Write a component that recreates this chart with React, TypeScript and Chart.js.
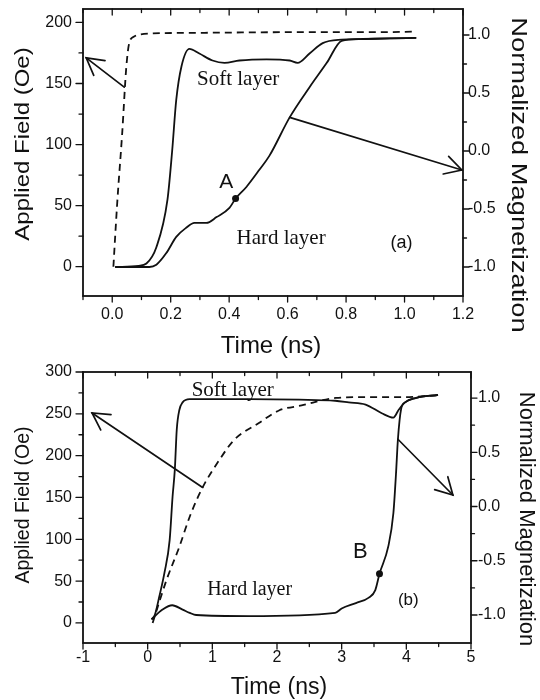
import { useEffect, useRef } from "react";
import { Chart, registerables } from "chart.js";

Chart.register(...registerables);

const INK = "#111";
const SANS = "'Liberation Sans', Arial, Helvetica, sans-serif";
const SERIF = "'Liberation Serif', 'Times New Roman', serif";

// ---------- Panel (a): fast pulse, time in ns ----------
const fieldTimeA = [0.004, 0.017, 0.034, 0.048, 0.058, 0.075, 0.092, 0.14, 0.3, 0.6, 0.9, 1.04];
const fieldA = [0, 52, 109, 163, 183, 188.5, 190, 191, 191.5, 192, 192, 192.5];

const softTimeA = [0.01, 0.09, 0.117, 0.151, 0.189, 0.205, 0.219, 0.237, 0.264, 0.298, 0.343, 0.384, 0.435, 0.528, 0.607, 0.634, 0.675, 0.72, 0.785, 0.85, 0.95, 1.04];
const softA = [-1, -0.99, -0.97, -0.83, -0.42, 0.0, 0.44, 0.73, 0.88, 0.84, 0.78, 0.76, 0.78, 0.79, 0.78, 0.76, 0.84, 0.93, 0.96, 0.965, 0.97, 0.975];

const hardTimeA = [0.01, 0.127, 0.151, 0.185, 0.219, 0.254, 0.281, 0.322, 0.357, 0.401, 0.422, 0.459, 0.504, 0.538, 0.607, 0.675, 0.734, 0.785, 0.85, 0.95, 1.04];
const hardA = [-1, -1, -0.98, -0.88, -0.74, -0.66, -0.62, -0.62, -0.57, -0.49, -0.41, -0.31, -0.16, -0.04, 0.29, 0.55, 0.76, 0.95, 0.965, 0.97, 0.975];

const markA = [0.422, -0.41];

const timeTicksA = [0, 0.2, 0.4, 0.6, 0.8, 1.0, 1.2];
const timeMinorA = [-0.1, 0.1, 0.3, 0.5, 0.7, 0.9, 1.1];
const fieldTicksA = [0, 50, 100, 150, 200];
const fieldMinorA = [25, 75, 125, 175];
const magTicks = [-1, -0.5, 0, 0.5, 1];
const magMinor = [-0.75, -0.25, 0.25, 0.75];

// ---------- Panel (b): slow pulse, time in ns ----------
const fieldTimeB = [0.077, 0.29, 0.49, 0.65, 0.85, 1.11, 1.34, 1.72, 2.03, 2.38, 2.91, 3.42, 3.92, 4.49];
const fieldB = [0, 51, 91, 127, 162, 195, 219, 239, 254, 260, 269, 270, 270, 272];

const softTimeB = [0.06, 0.11, 0.18, 0.26, 0.34, 0.385, 0.42, 0.45, 0.49, 0.54, 0.65, 1.0, 1.57, 2.34, 2.9, 3.11, 3.37, 3.62, 3.8, 3.88, 3.98, 4.14, 4.49];
const softB = [-1.04, -1.0, -0.83, -0.61, -0.31, 0.09, 0.34, 0.71, 0.89, 0.96, 0.99, 0.99, 0.99, 0.985, 0.975, 0.96, 0.94, 0.86, 0.82, 0.89, 0.96, 1.0, 1.03];

const hardTimeB = [0.06, 0.23, 0.38, 0.54, 0.65, 0.75, 1.57, 2.9, 3.0, 3.22, 3.42, 3.52, 3.585, 3.72, 3.8, 3.84, 3.87, 3.92, 3.98, 4.14, 4.49];
const hardB = [-1.04, -0.95, -0.91, -0.95, -0.98, -1.0, -1.01, -0.98, -0.94, -0.89, -0.84, -0.77, -0.62, -0.37, -0.06, 0.3, 0.62, 0.9, 0.96, 1.0, 1.03];

const markB = [3.585, -0.62];

const timeTicksB = [-1, 0, 1, 2, 3, 4, 5];
const timeMinorB = [-0.5, 0.5, 1.5, 2.5, 3.5, 4.5];
const fieldTicksB = [0, 50, 100, 150, 200, 250, 300];
const fieldMinorB = [25, 75, 125, 175, 225, 275];

type Arrow = { from: [number, number]; to: [number, number]; axis: "yF" | "yM" };
type Note = { text: string; at: [number, number]; font: string; align: CanvasTextAlign };
type AxisTitle = { text: string; cx: number; cy: number; size: number; rot: number; stretch: number };

// Pointers from each curve to the axis it is read against
const arrowsA: Arrow[] = [
  { from: [0.041, 147], to: [-0.089, 171], axis: "yF" },
  { from: [0.607, 0.29], to: [1.196, -0.164], axis: "yM" },
];
const arrowsB: Arrow[] = [
  { from: [0.85, 162], to: [-0.86, 251], axis: "yF" },
  { from: [3.87, 0.62], to: [4.72, 0.106], axis: "yM" },
];

const notesA: Note[] = [
  { text: "Soft layer", at: [0.29, 0.62], font: `21px ${SERIF}`, align: "left" },
  { text: "Hard layer", at: [0.425, -0.75], font: `21px ${SERIF}`, align: "left" },
  { text: "A", at: [0.39, -0.27], font: `21px ${SANS}`, align: "center" },
  { text: "(a)", at: [0.99, -0.79], font: `18px ${SANS}`, align: "center" },
];
const notesB: Note[] = [
  { text: "Soft layer", at: [0.68, 1.07], font: `21px ${SERIF}`, align: "left" },
  { text: "Hard layer", at: [0.92, -0.77], font: `20px ${SERIF}`, align: "left" },
  { text: "B", at: [3.29, -0.42], font: `22px ${SANS}`, align: "center" },
  { text: "(b)", at: [4.03, -0.86], font: `17px ${SANS}`, align: "center" },
];

const TIME_TITLE = "Time (ns)";
const FIELD_TITLE = "Applied Field (Oe)";
const MAG_TITLE = "Normalized Magnetization";

const pts = (xs: number[], ys: number[]) => xs.map((x, i) => ({ x, y: ys[i] }));

type PanelSpec = {
  height: number;
  padTop: number;
  xHeight: number;
  leftWidth: number;
  rightWidth: number;
  x: { min: number; max: number; ticks: number[]; minor: number[]; digits: number; pad: number };
  yF: { min: number; max: number; ticks: number[]; minor: number[]; pad: number };
  yM: { min: number; max: number; ticks: number[]; minor: number[]; pad: number };
  titles: AxisTitle[];
  field: { x: number; y: number }[];
  soft: { x: number; y: number }[];
  hard: { x: number; y: number }[];
  mark: number[];
  arrows: Arrow[];
  notes: Note[];
};

function drawArrow(ctx: CanvasRenderingContext2D, x1: number, y1: number, x2: number, y2: number) {
  const head = 19;
  const spread = Math.PI / 6.2;
  ctx.beginPath();
  ctx.moveTo(x1, y1);
  ctx.lineTo(x2, y2);
  ctx.stroke();
  const ang = Math.atan2(y1 - y2, x1 - x2);
  ctx.beginPath();
  ctx.moveTo(x2 + head * Math.cos(ang + spread), y2 + head * Math.sin(ang + spread));
  ctx.lineTo(x2, y2);
  ctx.lineTo(x2 + head * Math.cos(ang - spread), y2 + head * Math.sin(ang - spread));
  ctx.stroke();
}

// Frame, tick marks on all sides, axis titles, pointer arrows and in-plot labels
function decor(spec: PanelSpec) {
  return {
    id: "decor",
    afterDatasetsDraw(chart: any) {
      const { ctx, chartArea: ca, scales } = chart;
      const sx = scales.x, sF = scales.yF, sM = scales.yM;
      ctx.save();
      ctx.strokeStyle = INK;
      ctx.lineCap = "round";
      const seg = (a: number, b: number, c: number, d: number) => {
        ctx.beginPath();
        ctx.moveTo(a, b);
        ctx.lineTo(c, d);
        ctx.stroke();
      };
      ctx.lineWidth = 1.3;
      spec.x.ticks.forEach((v) => {
        const p = sx.getPixelForValue(v);
        seg(p, ca.bottom, p, ca.bottom + 6);
        seg(p, ca.top, p, ca.top + 6);
      });
      spec.x.minor.forEach((v) => {
        const p = sx.getPixelForValue(v);
        seg(p, ca.bottom, p, ca.bottom + 3.5);
        seg(p, ca.top, p, ca.top + 3.5);
      });
      spec.yF.ticks.forEach((v) => {
        const p = sF.getPixelForValue(v);
        seg(ca.left - 7, p, ca.left, p);
      });
      spec.yF.minor.forEach((v) => {
        const p = sF.getPixelForValue(v);
        seg(ca.left - 4, p, ca.left, p);
      });
      spec.yM.ticks.forEach((v) => {
        const p = sM.getPixelForValue(v);
        seg(ca.right, p, ca.right + 6, p);
      });
      spec.yM.minor.forEach((v) => {
        const p = sM.getPixelForValue(v);
        seg(ca.right, p, ca.right + 3.5, p);
      });
      ctx.lineWidth = 1.8;
      ctx.strokeRect(ca.left, ca.top, ca.right - ca.left, ca.bottom - ca.top);

      ctx.lineWidth = 1.7;
      spec.arrows.forEach((a) => {
        const sy = a.axis === "yF" ? sF : sM;
        drawArrow(
          ctx,
          sx.getPixelForValue(a.from[0]),
          sy.getPixelForValue(a.from[1]),
          sx.getPixelForValue(a.to[0]),
          sy.getPixelForValue(a.to[1])
        );
      });

      ctx.fillStyle = INK;
      ctx.textBaseline = "middle";
      spec.notes.forEach((n) => {
        ctx.font = n.font;
        ctx.textAlign = n.align;
        ctx.fillText(n.text, sx.getPixelForValue(n.at[0]), sM.getPixelForValue(n.at[1]));
      });

      ctx.textAlign = "center";
      spec.titles.forEach((t) => {
        ctx.save();
        ctx.translate(t.cx, t.cy);
        ctx.rotate((t.rot * Math.PI) / 180);
        ctx.scale(t.stretch, 1);
        ctx.font = `${t.size}px ${SANS}`;
        ctx.fillText(t.text, 0, 0);
        ctx.restore();
      });
      ctx.restore();
    },
  };
}

const noScalePadding = (s: any) => {
  s.paddingTop = 0;
  s.paddingBottom = 0;
  s.paddingLeft = 0;
  s.paddingRight = 0;
};

function buildConfig(spec: PanelSpec): any {
  const tickFont = { family: SANS, size: 16, lineHeight: 1 };
  const line = (data: any[], dashed: boolean) => ({
    type: "line",
    data,
    yAxisID: dashed ? "yF" : "yM",
    borderColor: INK,
    borderWidth: 1.8,
    borderDash: dashed ? [7, 5] : [],
    pointRadius: 0,
    fill: false,
    cubicInterpolationMode: "monotone",
  });
  const common = {
    type: "linear",
    grid: { display: false, drawTicks: false },
    border: { display: false },
    title: { display: false },
  };
  return {
    type: "line",
    data: {
      datasets: [
        line(spec.field, true),
        line(spec.soft, false),
        line(spec.hard, false),
        {
          type: "scatter",
          data: [{ x: spec.mark[0], y: spec.mark[1] }],
          yAxisID: "yM",
          pointRadius: 3.5,
          pointBackgroundColor: INK,
          pointBorderColor: INK,
          pointBorderWidth: 0,
        },
      ],
    },
    options: {
      animation: false,
      responsive: false,
      events: [],
      layout: { padding: { top: spec.padTop, left: 0, right: 0, bottom: 0 } },
      plugins: { legend: { display: false }, tooltip: { enabled: false } },
      scales: {
        x: {
          ...common,
          position: "bottom",
          min: spec.x.min,
          max: spec.x.max,
          afterBuildTicks: (s: any) => {
            s.ticks = spec.x.ticks.map((value) => ({ value }));
          },
          afterFit: (s: any) => {
            s.height = spec.xHeight;
            noScalePadding(s);
          },
          ticks: {
            autoSkip: false,
            maxRotation: 0,
            padding: spec.x.pad,
            color: INK,
            font: tickFont,
            callback: (v: number) => v.toFixed(spec.x.digits),
          },
        },
        yF: {
          ...common,
          position: "left",
          min: spec.yF.min,
          max: spec.yF.max,
          afterBuildTicks: (s: any) => {
            s.ticks = spec.yF.ticks.map((value) => ({ value }));
          },
          afterFit: (s: any) => {
            s.width = spec.leftWidth;
            noScalePadding(s);
          },
          ticks: {
            autoSkip: false,
            padding: spec.yF.pad,
            color: INK,
            font: tickFont,
            callback: (v: number) => String(v),
          },
        },
        yM: {
          ...common,
          position: "right",
          min: spec.yM.min,
          max: spec.yM.max,
          afterBuildTicks: (s: any) => {
            s.ticks = spec.yM.ticks.map((value) => ({ value }));
          },
          afterFit: (s: any) => {
            s.width = spec.rightWidth;
            noScalePadding(s);
          },
          ticks: {
            autoSkip: false,
            padding: spec.yM.pad,
            color: INK,
            font: tickFont,
            callback: (v: number) => v.toFixed(1),
          },
        },
      },
    },
    plugins: [decor(spec)],
  };
}

const panelA: PanelSpec = {
  height: 362,
  padTop: 9,
  xHeight: 66,
  leftWidth: 83,
  rightWidth: 77,
  x: { min: -0.1, max: 1.2, ticks: timeTicksA, minor: timeMinorA, digits: 1, pad: 11 },
  yF: { min: -24, max: 211, ticks: fieldTicksA, minor: fieldMinorA, pad: 11 },
  yM: { min: -1.25, max: 1.224, ticks: magTicks, minor: magMinor, pad: 5 },
  titles: [
    { text: TIME_TITLE, cx: 271, cy: 346, size: 24, rot: 0, stretch: 1 },
    { text: FIELD_TITLE, cx: 23, cy: 144, size: 20, rot: -90, stretch: 1.2 },
    { text: MAG_TITLE, cx: 518, cy: 175, size: 22, rot: 90, stretch: 1.24 },
  ],
  field: pts(fieldTimeA, fieldA),
  soft: pts(softTimeA, softA),
  hard: pts(hardTimeA, hardA),
  mark: markA,
  arrows: arrowsA,
  notes: notesA,
};

const panelB: PanelSpec = {
  height: 338,
  padTop: 10,
  xHeight: 57,
  leftWidth: 83,
  rightWidth: 69,
  x: { min: -1, max: 5, ticks: timeTicksB, minor: timeMinorB, digits: 0, pad: 7 },
  yF: { min: -24, max: 300, ticks: fieldTicksB, minor: fieldMinorB, pad: 11 },
  yM: { min: -1.258, max: 1.24, ticks: magTicks, minor: magMinor, pad: 7 },
  titles: [
    { text: TIME_TITLE, cx: 279, cy: 326, size: 23, rot: 0, stretch: 1 },
    { text: FIELD_TITLE, cx: 24, cy: 143, size: 19.5, rot: -90, stretch: 1 },
    { text: MAG_TITLE, cx: 526, cy: 157, size: 22, rot: 90, stretch: 1 },
  ],
  field: pts(fieldTimeB, fieldB),
  soft: pts(softTimeB, softB),
  hard: pts(hardTimeB, hardB),
  mark: markB,
  arrows: arrowsB,
  notes: notesB,
};

function Panel({ spec, top }: { spec: PanelSpec; top: number }) {
  const ref = useRef<HTMLCanvasElement>(null);
  useEffect(() => {
    const chart = new Chart(ref.current as HTMLCanvasElement, buildConfig(spec));
    return () => chart.destroy();
  }, [spec]);
  return (
    <canvas
      ref={ref}
      width={540}
      height={spec.height}
      style={{ position: "absolute", left: 0, top, width: 540, height: spec.height }}
    />
  );
}

export default function App() {
  return (
    <div style={{ position: "absolute", left: 0, top: 0, width: 540, height: 700, background: "#fff" }}>
      <Panel spec={panelA} top={0} />
      <Panel spec={panelB} top={362} />
    </div>
  );
}
